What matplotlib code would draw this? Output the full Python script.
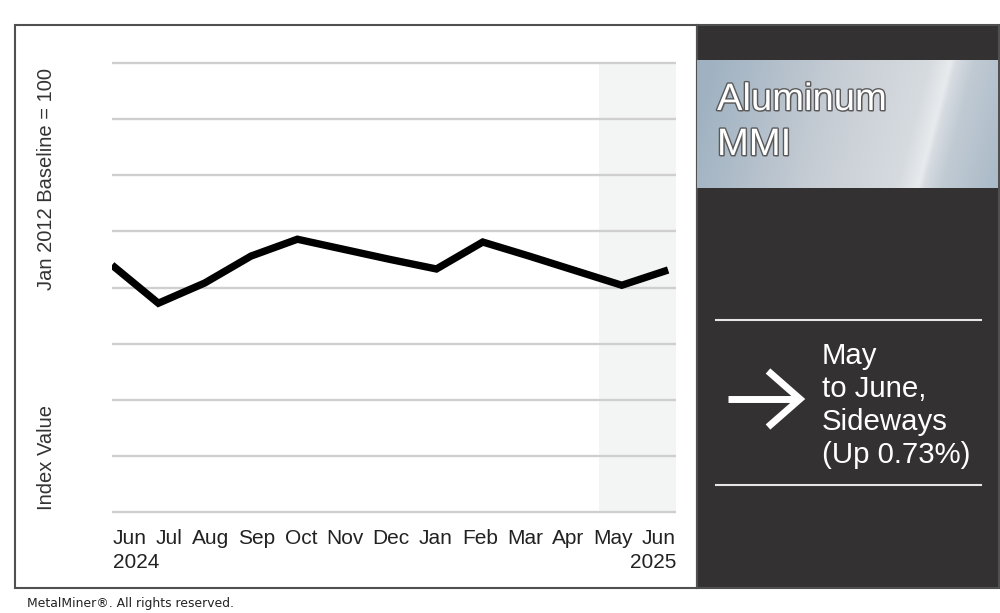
import numpy as np
import matplotlib.pyplot as plt
from matplotlib.patches import Rectangle
from matplotlib.lines import Line2D
from matplotlib import patheffects as pe

plt.rcParams['font.family'] = ['Liberation Sans', 'DejaVu Sans']

# data (index values, no axis labels shown)
months = ['Jun', 'Jul', 'Aug', 'Sep', 'Oct', 'Nov', 'Dec', 'Jan', 'Feb', 'Mar', 'Apr', 'May', 'Jun']
years = ['2024', '2025']
index_values = [220.0, 186.0, 204.0, 228.0, 243.0, 234.0, 225.0, 216.5, 240.5, 228.0, 215.0, 202.0, 215.6]
grid_levels = [0, 50, 100, 150, 200, 250, 300, 350, 400]
title_lines = ['Aluminum', 'MMI']
status_lines = ['May', 'to June,', 'Sideways', '(Up 0.73%)']

W, H = 1000, 613
fig = plt.figure(figsize=(10, 6.13), dpi=100)


def fx(x):
    return x / W


def fy(y):
    return 1 - y / H


# panels
fig.add_artist(Rectangle((fx(15), fy(588)), fx(697) - fx(15), fy(25) - fy(588),
                         transform=fig.transFigure, facecolor='white',
                         edgecolor='#505050', lw=1.5, zorder=-2))
fig.add_artist(Rectangle((fx(697), fy(588)), fx(999) - fx(697), fy(25) - fy(588),
                         transform=fig.transFigure, facecolor='#333132',
                         edgecolor='#505050', lw=1.5, zorder=-2))

# chart
x = np.arange(len(months))
xmax = 12.17
ax = fig.add_axes([fx(112), fy(512), fx(676) - fx(112), fy(63) - fy(512)])
ax.set_facecolor('none')
ax.axvspan(10.5, xmax, color='#f3f4f4', zorder=0, lw=0)
ax.hlines(grid_levels, 0, xmax, color='#cfcfcf', lw=1.7, zorder=1, clip_on=False)
ax.plot(x, index_values, color='black', lw=5.3, zorder=3, solid_joinstyle='miter',
        solid_capstyle='butt')
ax.set_xlim(0, xmax)
ax.set_ylim(0, 400)
for s in ax.spines.values():
    s.set_visible(False)
ax.set_xticks([])
ax.set_yticks([])

# month labels justified across the plot width, like the reference
renderer = fig.canvas.get_renderer()
month_texts = [fig.text(0, fy(539), m, fontsize=15, color='#222222', va='center', ha='left')
               for m in months]
widths = [t.get_window_extent(renderer).width for t in month_texts]
left, right = 113, 676
gap = (right - left - sum(widths)) / (len(months) - 1)
pos = left
for t, w in zip(month_texts, widths):
    t.set_x(fx(pos))
    pos += w + gap
fig.text(fx(left), fy(562), years[0], fontsize=15, color='#222222', va='center', ha='left')
fig.text(fx(right), fy(562), years[1], fontsize=15, color='#222222', va='center', ha='right')

fig.text(fx(47), fy(179), 'Jan 2012 Baseline = 100', rotation=90, fontsize=14.5,
         color='#333333', ha='center', va='center')
fig.text(fx(47), fy(458), 'Index Value', rotation=90, fontsize=14.5,
         color='#333333', ha='center', va='center')
fig.text(fx(27), fy(604), 'MetalMiner®. All rights reserved.', fontsize=8.9,
         family='DejaVu Sans', color='#222222', ha='left', va='center')

# metallic title box
gw, gh = 300, 128
gx, gy = np.meshgrid(np.linspace(0, 1, gw), np.linspace(0, 1, gh))
u = gx - 0.11 * (0.5 - gy)
stops = [0.0, 0.45, 0.72, 0.79, 0.81, 0.87, 1.1]
reds = [160, 200, 214, 232, 214, 192, 165]
greens = [178, 206, 219, 235, 219, 202, 182]
blues = [194, 213, 224, 237, 225, 211, 197]
grad = np.dstack([np.interp(u, stops, reds), np.interp(u, stops, greens),
                  np.interp(u, stops, blues)]) / 255
tax = fig.add_axes([fx(697), fy(188), fx(998) - fx(697), fy(60) - fy(188)])
tax.imshow(grad, aspect='auto', extent=(0, 1, 0, 1))
tax.axis('off')

outline = [pe.SimplePatchShadow(offset=(1, -1), shadow_rgbFace='#666666', alpha=0.6),
           pe.Stroke(linewidth=2, foreground='#5a5a5a'), pe.Normal()]
for line, base in zip(title_lines, [110, 155]):
    fig.text(fx(717), fy(base), line, fontsize=27.5, color='white', va='baseline',
             ha='left', path_effects=outline, zorder=5)

# status block
for yy in [320, 485]:
    fig.add_artist(Line2D([fx(716), fx(981)], [fy(yy), fy(yy)], color='#e6e6e6',
                          lw=1.5, transform=fig.transFigure))
fig.add_artist(Line2D([fx(728), fx(797)], [fy(399), fy(399)], color='white', lw=5,
                      solid_capstyle='butt', transform=fig.transFigure))
fig.add_artist(Line2D([fx(768), fx(800), fx(768)], [fy(371), fy(399), fy(427)],
                      color='white', lw=5, solid_joinstyle='miter',
                      solid_capstyle='butt', transform=fig.transFigure))
for line, base in zip(status_lines, [364, 397, 430, 463]):
    fig.text(fx(822), fy(base), line, fontsize=21.2, color='white', va='baseline',
             ha='left')

fig.savefig('out.png', dpi=100)
